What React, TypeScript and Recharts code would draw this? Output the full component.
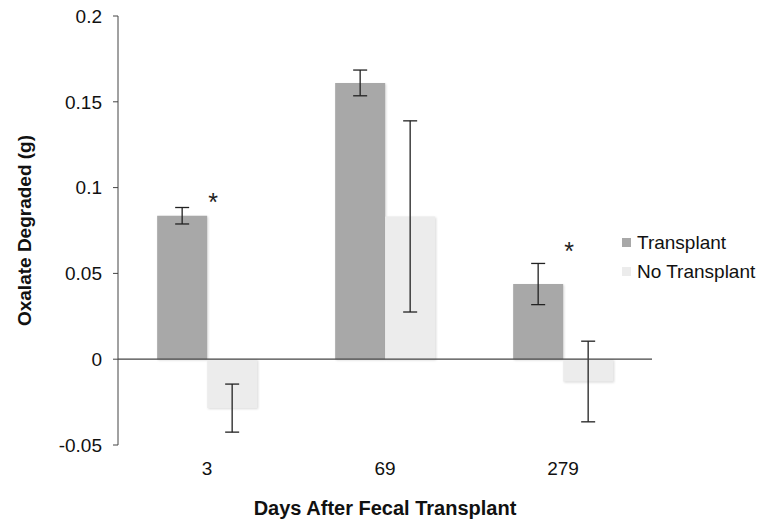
import {
  ComposedChart,
  Bar,
  ErrorBar,
  Scatter,
  XAxis,
  YAxis,
  ReferenceLine,
  Label,
} from "recharts";

// Days after transplant (categories)
const days = ["3", "69", "279"];

// Oxalate degraded (g)
const transplant = [0.0836, 0.161, 0.0438];
const transplantErr = [0.0048, 0.0075, 0.012];
const noTransplant = [-0.0285, 0.0832, -0.013];
const noTransplantErr = [0.014, 0.0557, 0.0235];

// significance markers (value where the asterisk sits, null = none)
const starAt = [0.0945, null, 0.066];

const yTicks = [-0.05, 0, 0.05, 0.1, 0.15, 0.2];

const FONT = "'Liberation Sans', Arial, Helvetica, sans-serif";
const DARK = "#444444";
const TRANSPLANT_COLOR = "#a8a8a8";
const NO_TRANSPLANT_COLOR = "#ececec";

const data = days.map((d, i) => ({
  day: d,
  transplant: transplant[i],
  tErr: transplantErr[i],
  noTransplant: noTransplant[i],
  nErr: noTransplantErr[i],
  star: starAt[i],
}));

const legendItems = [
  { name: "Transplant", color: TRANSPLANT_COLOR },
  { name: "No Transplant", color: NO_TRANSPLANT_COLOR },
];

const ChartLegend = () => (
  <div
    style={{
      position: "absolute",
      left: 622,
      top: 228,
      fontFamily: FONT,
      fontSize: 19,
      color: "#111",
    }}
  >
    {legendItems.map((item) => (
      <div
        key={item.name}
        style={{ display: "flex", alignItems: "center", height: 29 }}
      >
        <div
          style={{
            width: 9,
            height: 9,
            background: item.color,
            marginRight: 6,
          }}
        />
        <span>{item.name}</span>
      </div>
    ))}
  </div>
);

// asterisk drawn just right of the category centre
const Star = (props: any) => {
  const { cx, cy, payload } = props;
  if (payload.star == null) return null;
  return (
    <text
      x={cx + 6}
      y={cy + 14}
      textAnchor="middle"
      fontFamily={FONT}
      fontSize={25}
      fill="#222"
    >
      *
    </text>
  );
};

export default function App() {
  return (
    <div style={{ position: "absolute", left: 0, top: 0, width: 771, height: 523 }}>
      <ComposedChart
        width={771}
        height={523}
        data={data}
        margin={{ top: 16, right: 119, left: 0, bottom: 28 }}
        barGap={0}
        barCategoryGap="22%"
      >
        <XAxis
          dataKey="day"
          axisLine={false}
          tickLine={false}
          tickSize={0}
          tickMargin={17}
          height={50}
          tick={{ fontFamily: FONT, fontSize: 19, fill: "#111" }}
        >
          <Label
            content={(p: any) => (
              <text
                x={p.viewBox.x + p.viewBox.width / 2}
                y={515}
                textAnchor="middle"
                fontFamily={FONT}
                fontSize={20}
                fontWeight="bold"
                fill="#111"
              >
                Days After Fecal Transplant
              </text>
            )}
          />
        </XAxis>
        <YAxis
          width={118}
          domain={[-0.05, 0.2]}
          ticks={yTicks}
          allowDataOverflow
          axisLine={{ stroke: DARK }}
          tickLine={{ stroke: DARK }}
          tickSize={5}
          tickMargin={11}
          tick={{ fontFamily: FONT, fontSize: 19, fill: "#111" }}
        >
          <Label
            content={(p: any) => {
              const cy = p.viewBox.y + p.viewBox.height / 2;
              return (
                <text
                  x={31}
                  y={cy}
                  transform={`rotate(-90, 31, ${cy})`}
                  textAnchor="middle"
                  fontFamily={FONT}
                  fontSize={19}
                  fontWeight="bold"
                  fill="#111"
                >
                  Oxalate Degraded (g)
                </text>
              );
            }}
          />
        </YAxis>
        <Bar
          dataKey="transplant"
          name="Transplant"
          fill={TRANSPLANT_COLOR}
          isAnimationActive={false}
          style={{ filter: "drop-shadow(1px 1px 1px rgba(0,0,0,0.15))" }}
        >
          <ErrorBar dataKey="tErr" width={7} stroke="#222" strokeWidth={1.3} />
        </Bar>
        <Bar
          dataKey="noTransplant"
          name="No Transplant"
          fill={NO_TRANSPLANT_COLOR}
          isAnimationActive={false}
          style={{ filter: "drop-shadow(1px 1px 1px rgba(0,0,0,0.15))" }}
        >
          <ErrorBar dataKey="nErr" width={7} stroke="#222" strokeWidth={1.3} />
        </Bar>
        <ReferenceLine y={0} stroke={DARK} strokeWidth={1.2} />
        <Scatter
          dataKey="star"
          shape={<Star />}
          isAnimationActive={false}
          legendType="none"
        />
      </ComposedChart>
      <ChartLegend />
    </div>
  );
}
